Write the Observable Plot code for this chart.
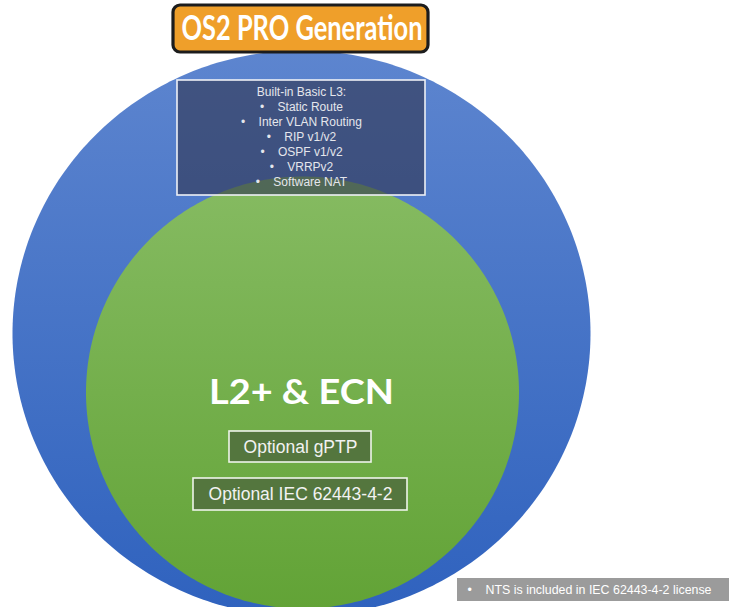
<!DOCTYPE html>
<html>
<head>
<meta charset="utf-8">
<script src="https://cdn.jsdelivr.net/npm/d3@7"></script>
<script src="https://cdn.jsdelivr.net/npm/@observablehq/plot@0.6"></script>
<style>
  html, body { margin: 0; padding: 0; background: #ffffff; }
  #chart svg { display: block; }
</style>
</head>
<body>
<div id="chart"></div>
<script>
// ---- Content (text) ----
const titleText = "OS2 PRO Generation";
const l3Heading = "Built-in Basic L3:";
const l3Features = ["Static Route", "Inter VLAN Routing", "RIP v1/v2", "OSPF v1/v2", "VRRPv2", "Software NAT"];
const coreLabel = "L2+ & ECN";
const optionLabels = ["Optional gPTP", "Optional IEC 62443-4-2"];
const noteText = "NTS is included in IEC 62443-4-2 license";

// ---- Layout (geometry, in pixel space of the 729x607 canvas) ----
const W = 729, H = 607;
const outer = {cx: 301, cy: 333, rx: 289, ry: 283};
const inner = {cx: 302, cy: 392, rx: 216.5, ry: 216};
const titleBox = {x1: 173, x2: 428, y1: 5, y2: 52, cy: 29, textWidth: 241};
const l3Box = {x1: 177, x2: 425, y1: 80, y2: 195, y0: 92, dy: 15};
const coreY = 393;
const optBoxes = [
  {x1: 229, x2: 371, y1: 431, y2: 462},
  {x1: 193, x2: 407, y1: 478, y2: 510}
];
const noteBox = {x1: 457, x2: 729, y1: 578, y2: 601};

const ellipse = e => d3.range(0, 361, 1).map(a => {
  const t = a * Math.PI / 180;
  return {x: e.cx + e.rx * Math.cos(t), y: e.cy + e.ry * Math.sin(t)};
});

const bullet = s => "\u2022\u00a0\u00a0\u00a0\u00a0" + s;
const l3Lines = [l3Heading, ...l3Features.map(bullet)].map((t, i) => ({t, y: l3Box.y0 + i * l3Box.dy}));
const optRows = optionLabels.map((t, i) => ({t, ...optBoxes[i], y: (optBoxes[i].y1 + optBoxes[i].y2) / 2}));

const chart = Plot.plot({
  width: W,
  height: H,
  margin: 0,
  x: {domain: [0, W], range: [0, W], axis: null},
  y: {domain: [0, H], range: [0, H], axis: null},
  marks: [
    Plot.line(ellipse(outer), {x: "x", y: "y", fill: "url(#gBlue)", stroke: "none", curve: "linear-closed"}),
    Plot.line(ellipse(inner), {x: "x", y: "y", fill: "url(#gGreen)", stroke: "none", curve: "linear-closed"}),
    // L3 box
    Plot.rect([l3Box], {x1: "x1", x2: "x2", y1: "y1", y2: "y2", fill: "#303650", fillOpacity: 0.62, stroke: "#eef0f6", strokeWidth: 1.6}),
    Plot.text(l3Lines, {x: (l3Box.x1 + l3Box.x2) / 2, y: "y", text: "t", fill: "#e4e6ec", fontSize: 12, fontFamily: "Liberation Sans, Arial, sans-serif", textAnchor: "middle"}),
    // Title
    Plot.rect([titleBox], {x1: "x1", x2: "x2", y1: "y1", y2: "y2", fill: "#ef9f2a", stroke: "#1c1c1c", strokeWidth: 3.2, rx: 7}),
    Plot.text([titleText], {x: (titleBox.x1 + titleBox.x2) / 2 + 1, y: titleBox.cy, text: d => d, fill: "#ffffff", fontSize: 34, fontWeight: 700, fontFamily: "Lato, sans-serif", className: "title-text"}),
    // Core label
    Plot.text([coreLabel], {x: 301, y: coreY, text: d => d, fill: "#ffffff", fontSize: 34, fontWeight: 700, fontFamily: "Lato, sans-serif", className: "core-text"}),
    // Option boxes
    Plot.rect(optRows, {x1: "x1", x2: "x2", y1: "y1", y2: "y2", fill: "#54763e", stroke: "#eef4ea", strokeWidth: 1.6}),
    Plot.text(optRows, {x: d => (d.x1 + d.x2) / 2, y: "y", text: "t", fill: "#f2f2f2", fontSize: 17.5, fontFamily: "Liberation Sans, Arial, sans-serif"}),
    // Note
    Plot.rect([noteBox], {x1: "x1", x2: "x2", y1: "y1", y2: "y2", fill: "#9b9b9b"}),
    Plot.text([bullet(noteText)], {x: noteBox.x1 + 10, y: (noteBox.y1 + noteBox.y2) / 2, text: d => d, fill: "#ffffff", fontSize: 12.4, fontFamily: "Liberation Sans, Arial, sans-serif", textAnchor: "start"})
  ]
});

const svg = d3.select(chart);
const defs = svg.insert("defs", ":first-child");
const gb = defs.append("linearGradient").attr("id", "gBlue").attr("x1", 0).attr("y1", 0).attr("x2", 0).attr("y2", 1);
gb.append("stop").attr("offset", "0%").attr("stop-color", "#5d85cf");
gb.append("stop").attr("offset", "100%").attr("stop-color", "#2f62be");
const gg = defs.append("linearGradient").attr("id", "gGreen").attr("x1", 0).attr("y1", 0).attr("x2", 0).attr("y2", 1);
gg.append("stop").attr("offset", "0%").attr("stop-color", "#86bb62");
gg.append("stop").attr("offset", "100%").attr("stop-color", "#62a336");
svg.selectAll(".title-text text").attr("textLength", titleBox.textWidth).attr("lengthAdjust", "spacingAndGlyphs");
svg.selectAll(".core-text text").attr("textLength", 185).attr("lengthAdjust", "spacingAndGlyphs");
chart.style.background = "#ffffff";
document.getElementById("chart").appendChild(chart);
</script>
</body>
</html>
